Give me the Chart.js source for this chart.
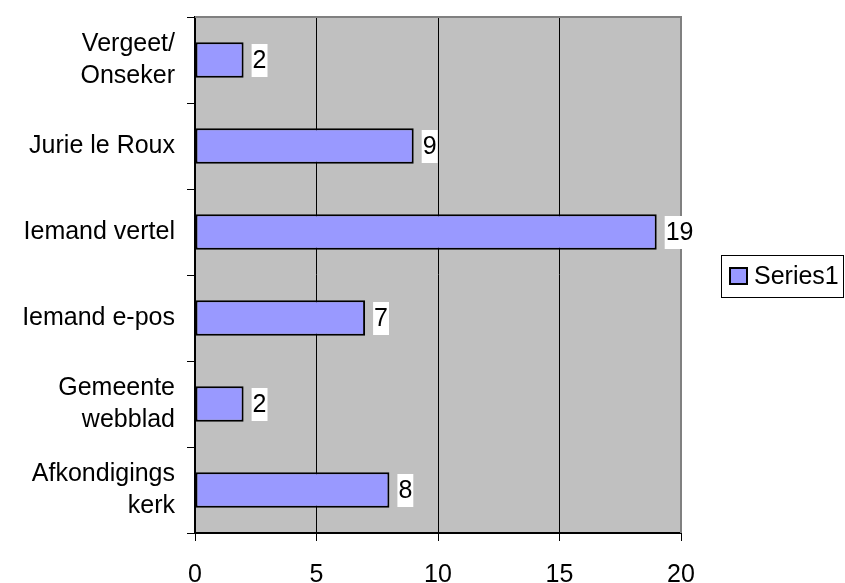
<!DOCTYPE html>
<html>
<head>
<meta charset="utf-8">
<script src="https://cdn.jsdelivr.net/npm/chart.js@4/dist/chart.umd.min.js"></script>
<style>
  html, body { margin: 0; padding: 0; background: #fff; }
  #wrap { width: 845px; height: 583px; }
</style>
</head>
<body>
<div id="wrap"><canvas id="chart" width="845" height="583"></canvas></div>
<script>
const categories = [['Vergeet/', 'Onseker'], 'Jurie le Roux', 'Iemand vertel', 'Iemand e-pos', ['Gemeente', 'webblad'], ['Afkondigings', 'kerk']];
const series1 = [2, 9, 19, 7, 2, 8];
const xTicks = [0, 5, 10, 15, 20];

const FONT = 'Arial, "Liberation Sans", sans-serif';

// fond gris de la zone de tracé + bordure
const plotBg = {
  id: 'plotBg',
  beforeDraw(chart) {
    const { ctx, chartArea: a } = chart;
    ctx.save();
    ctx.fillStyle = '#c0c0c0';
    ctx.fillRect(a.left, a.top, a.right - a.left, a.bottom - a.top);
    ctx.restore();
  },
  beforeDatasetsDraw(chart) {
    const { ctx, chartArea: a } = chart;
    ctx.save();
    ctx.strokeStyle = '#808080';
    ctx.lineWidth = 2;
    ctx.beginPath();
    ctx.moveTo(a.left, a.top);
    ctx.lineTo(a.right, a.top);
    ctx.lineTo(a.right, a.bottom);
    ctx.stroke();
    ctx.restore();
  }
};

// étiquettes de valeurs sur fond blanc
const valueLabels = {
  id: 'valueLabels',
  afterDatasetsDraw(chart) {
    const { ctx } = chart;
    const meta = chart.getDatasetMeta(0);
    ctx.save();
    ctx.font = '25px ' + FONT;
    ctx.textBaseline = 'middle';
    meta.data.forEach((bar, i) => {
      const txt = String(chart.data.datasets[0].data[i]);
      const w = ctx.measureText(txt).width;
      const x = bar.x + 8;
      ctx.fillStyle = '#fff';
      ctx.fillRect(x, bar.y - 16, w + 2, 33);
      ctx.fillStyle = '#000';
      ctx.fillText(txt, x + 1, bar.y + 1);
    });
    ctx.restore();
  }
};

// légende à droite
const sideLegend = {
  id: 'sideLegend',
  afterDraw(chart) {
    const { ctx } = chart;
    const ds = chart.data.datasets[0];
    ctx.save();
    ctx.strokeStyle = '#000';
    ctx.lineWidth = 1;
    ctx.strokeRect(721.5, 255.5, 122, 42);
    ctx.fillStyle = ds.backgroundColor;
    ctx.fillRect(730, 268, 17, 16);
    ctx.lineWidth = 2;
    ctx.strokeRect(730, 268, 17, 16);
    ctx.fillStyle = '#000';
    ctx.font = '25px ' + FONT;
    ctx.textBaseline = 'middle';
    ctx.fillText(ds.label, 754, 277);
    ctx.restore();
  }
};

new Chart(document.getElementById('chart'), {
  type: 'bar',
  data: {
    labels: categories,
    datasets: [{
      label: 'Series1',
      data: series1,
      backgroundColor: '#9999ff',
      borderColor: '#000',
      borderWidth: 2,
      borderSkipped: false,
      categoryPercentage: 1,
      barPercentage: 0.41
    }]
  },
  options: {
    indexAxis: 'y',
    responsive: false,
    animation: false,
    layout: { padding: { top: 17, right: 164, left: 0, bottom: 0 } },
    plugins: { legend: { display: false }, tooltip: { enabled: false } },
    scales: {
      x: {
        min: 0,
        max: 20,
        afterBuildTicks(scale) { scale.ticks = xTicks.map(v => ({ value: v })); },
        afterFit(scale) { scale.height = 50; scale.paddingLeft = 0; scale.paddingRight = 0; },
        grid: { color: '#000', lineWidth: 1, tickLength: 8, drawOnChartArea: true },
        border: { color: '#000', width: 2 },
        ticks: { color: '#000', font: { family: FONT, size: 25 }, padding: 19 }
      },
      y: {
        afterFit(scale) { scale.width = 195; scale.paddingTop = 0; scale.paddingBottom = 0; },
        grid: { drawOnChartArea: false, color: '#000', tickLength: 8, offset: true },
        border: { color: '#000', width: 2 },
        ticks: { color: '#000', font: { family: FONT, size: 25, lineHeight: 1.25 }, padding: 12 }
      }
    }
  },
  plugins: [plotBg, valueLabels, sideLegend]
});
</script>
</body>
</html>
